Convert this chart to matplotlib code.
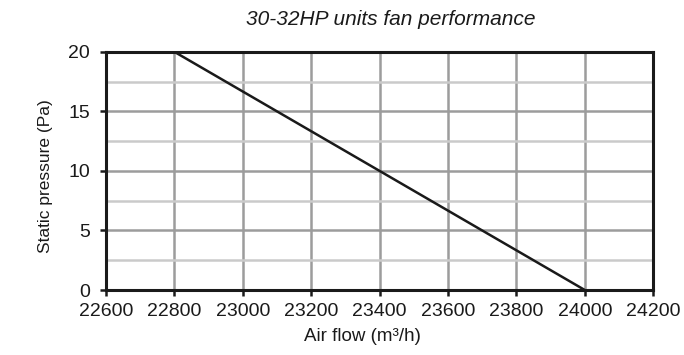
import matplotlib
matplotlib.use("Agg")
import matplotlib.pyplot as plt
from matplotlib.ticker import MultipleLocator

plt.rcParams["font.family"] = ["Liberation Sans", "DejaVu Sans"]

air_flow = [22800, 24000]
static_pressure = [20, 0]

x_ticks = [22600, 22800, 23000, 23200, 23400, 23600, 23800, 24000, 24200]
y_ticks = [0, 5, 10, 15, 20]

fig = plt.figure(figsize=(6.84, 3.55), dpi=100)
ax = fig.add_axes([0.155, 0.183, 0.8, 0.671])

ax.set_xlim(22600, 24200)
ax.set_ylim(0, 20)
ax.set_xticks(x_ticks)
ax.set_yticks(y_ticks)
ax.yaxis.set_minor_locator(MultipleLocator(2.5))

ax.grid(which="major", color="#9c9c9c", linewidth=1.8)
ax.grid(which="minor", axis="y", color="#cacaca", linewidth=1.8)
ax.set_axisbelow(True)

ax.plot(air_flow, static_pressure, color="#1a1a1a", linewidth=1.8, zorder=3)

for s in ax.spines.values():
    s.set_linewidth(2.2)
    s.set_color("#1a1a1a")

ax.tick_params(which="major", direction="out", length=4.5, width=1.8,
               labelsize=14, colors="#1a1a1a")
ax.tick_params(axis="x", pad=5)
ax.tick_params(axis="y", pad=7)
ax.tick_params(which="minor", length=0)

ax.set_xlabel("Air flow (m³/h)", fontsize=13.5, color="#1a1a1a", va="center")
ax.xaxis.set_label_coords(0.469, -0.197)
ax.set_ylabel("Static pressure (Pa)", fontsize=12.5, color="#1a1a1a", va="center")
ax.yaxis.set_label_coords(-0.1115, 0.48)
fig.text(0.572, 0.944, "30-32HP units fan performance", fontsize=15,
         style="italic", ha="center", va="center", color="#1a1a1a")

fig.savefig("out.png", dpi=100)
